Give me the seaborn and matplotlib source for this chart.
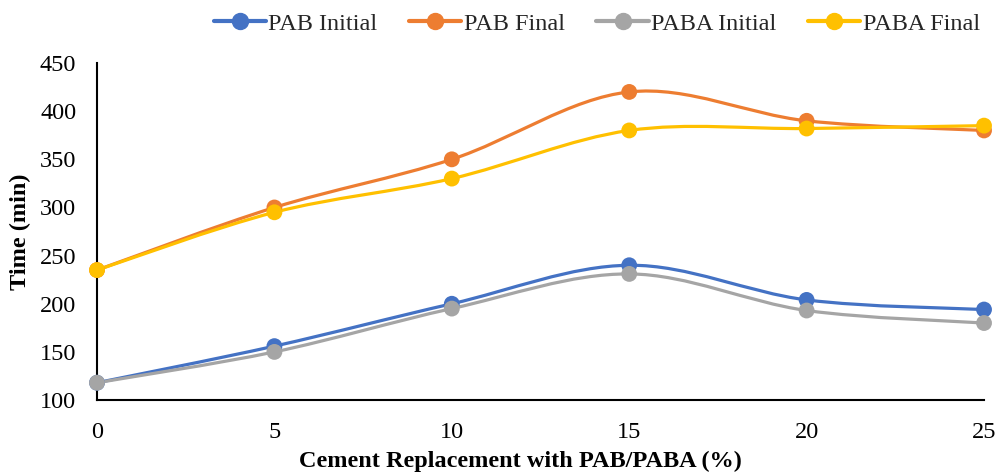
import numpy as np
import pandas as pd
import matplotlib
matplotlib.use("Agg")
import matplotlib.pyplot as plt
from matplotlib.path import Path
from matplotlib.patches import PathPatch
from matplotlib.lines import Line2D
import seaborn as sns

# ---- data ----
replacement = [0, 5, 10, 15, 20, 25]
pab_initial = [118, 156, 200, 240, 204, 194]
pab_final = [235, 300, 350, 420, 390, 380]
paba_initial = [118, 150, 195, 231, 193, 180]
paba_final = [235, 295, 330, 380, 382, 385]
series_names = ["PAB Initial", "PAB Final", "PABA Initial", "PABA Final"]
colors = ["#4472C4", "#ED7D31", "#A5A5A5", "#FFC000"]

df = pd.DataFrame({
    "x": replacement * 4,
    "y": pab_initial + pab_final + paba_initial + paba_final,
    "series": sum([[n] * len(replacement) for n in series_names], []),
})

sns.set_theme(style="white")
plt.rcParams["font.family"] = ["Liberation Serif", "DejaVu Serif"]

fig = plt.figure(figsize=(9.98, 4.74), dpi=100)
ax = fig.add_axes([0.0972, 0.156, 0.8888, 0.711])


def smooth_path(xs, ys):
    pts = np.column_stack([xs, ys]).astype(float)
    ext = np.vstack([pts[0], pts, pts[-1]])
    verts = [pts[0]]
    codes = [Path.MOVETO]
    for i in range(len(pts) - 1):
        p0, p1, p2, p3 = ext[i], ext[i + 1], ext[i + 2], ext[i + 3]
        c1 = p1 + (p2 - p0) / 6.0
        c2 = p2 - (p3 - p1) / 6.0
        verts += [c1, c2, p2]
        codes += [Path.CURVE4] * 3
    return Path(verts, codes)


for name, col in zip(series_names, colors):
    sub = df[df["series"] == name]
    patch = PathPatch(smooth_path(sub["x"].values, sub["y"].values),
                      facecolor="none", edgecolor=col, lw=2.3,
                      capstyle="round", joinstyle="round", clip_on=False)
    ax.add_patch(patch)
    sns.scatterplot(data=sub, x="x", y="y", color=col, s=130,
                    edgecolor="none", ax=ax, legend=False, zorder=3,
                    clip_on=False)

ax.set_xlim(0, 25)
ax.set_ylim(100, 450)
ax.set_xticks(replacement)
ax.set_yticks(range(100, 451, 50))
for s in ["top", "right"]:
    ax.spines[s].set_visible(False)
for s in ["left", "bottom"]:
    ax.spines[s].set_color("black")
    ax.spines[s].set_linewidth(1.5)
ax.tick_params(axis="both", direction="out", length=5, width=1.3,
               colors="black", labelsize=17.5)
ax.tick_params(axis="y", pad=10)
ax.tick_params(axis="x", pad=11)
ax.set_xlabel("Cement Replacement with PAB/PABA (%)", fontsize=17.5,
              fontweight="bold", color="black")
ax.xaxis.set_label_coords(0.4775, -0.15)
ax.set_ylabel("Time (min)", fontsize=17.5, fontweight="bold", color="black",
              labelpad=6)

handles = [Line2D([], [], color=c, lw=3, marker="o", markersize=11.5)
           for c in colors]
fig.legend(handles, series_names, loc="center", ncol=4, frameon=False,
           bbox_to_anchor=(0.598, 0.95), fontsize=17.5, handlelength=2.15,
           handletextpad=0.1, columnspacing=1.3)

fig.savefig("out.png", dpi=100)
